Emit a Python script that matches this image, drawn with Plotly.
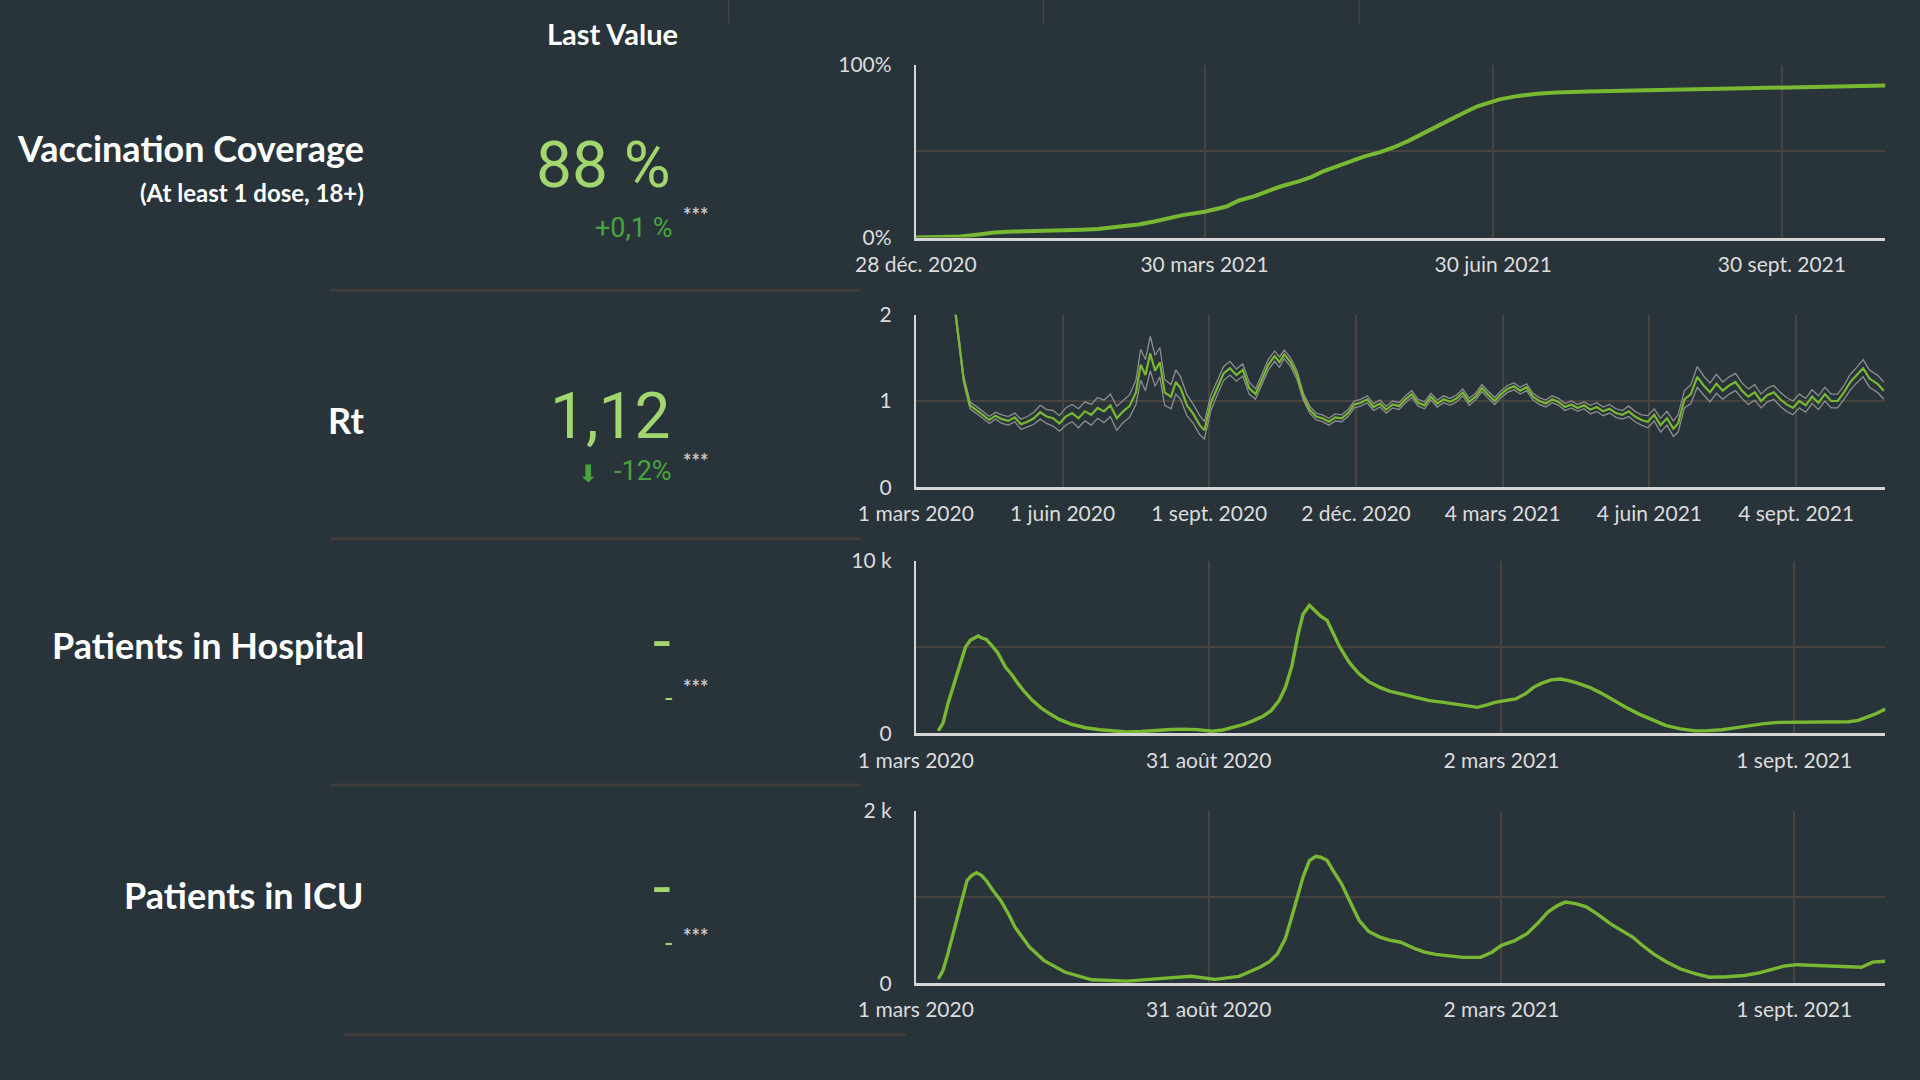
import plotly.graph_objects as go

# ---- data ----

# vaccination coverage, % of adults with at least one dose
vacc_dates = [
    "2020-12-28", "2021-01-04", "2021-01-11", "2021-01-17", "2021-01-22", "2021-01-28",
    "2021-02-02", "2021-02-08", "2021-02-13", "2021-02-19", "2021-02-24", "2021-03-03",
    "2021-03-09", "2021-03-14", "2021-03-19", "2021-03-23", "2021-03-30", "2021-04-06",
    "2021-04-10", "2021-04-15", "2021-04-20", "2021-04-24", "2021-04-29", "2021-05-03",
    "2021-05-07", "2021-05-11", "2021-05-16", "2021-05-20", "2021-05-25", "2021-05-29",
    "2021-06-03", "2021-06-07", "2021-06-12", "2021-06-16", "2021-06-21", "2021-06-25",
    "2021-07-02", "2021-07-08", "2021-07-14", "2021-07-20", "2021-07-30", "2021-08-11",
    "2021-08-22", "2021-09-02", "2021-09-15", "2021-09-29", "2021-10-15", "2021-11-02",
]
vacc_pct = [
    0.0, 0.1, 0.6, 1.8, 2.9, 3.5,
    3.9, 4.0, 4.2, 4.6, 5.0, 6.4,
    7.6, 9.3, 11.4, 13.0, 15.0, 18.0,
    21.5, 24.0, 27.5, 30.0, 32.5, 35.0,
    38.5, 41.0, 44.0, 47.0, 49.5, 52.0,
    56.0, 59.5, 64.0, 68.0, 72.5, 76.0,
    80.0, 82.0, 83.2, 84.0, 84.6, 85.0,
    85.7, 86.3, 86.7, 87.0, 87.5, 88.0,
]

# reproduction number with its confidence band (half width)
rt_dates = [
    "2020-03-15", "2020-03-20", "2020-03-26", "2020-03-31", "2020-04-04", "2020-04-08",
    "2020-04-12", "2020-04-16", "2020-04-20", "2020-04-24", "2020-04-28", "2020-05-02",
    "2020-05-06", "2020-05-10", "2020-05-14", "2020-05-18", "2020-05-22", "2020-05-26",
    "2020-05-30", "2020-06-03", "2020-06-07", "2020-06-11", "2020-06-15", "2020-06-19",
    "2020-06-23", "2020-06-27", "2020-07-01", "2020-07-05", "2020-07-09", "2020-07-13",
    "2020-07-17", "2020-07-20", "2020-07-23", "2020-07-26", "2020-07-29", "2020-08-01",
    "2020-08-04", "2020-08-08", "2020-08-11", "2020-08-14", "2020-08-18", "2020-08-22",
    "2020-08-26", "2020-08-29", "2020-09-02", "2020-09-06", "2020-09-10", "2020-09-14",
    "2020-09-18", "2020-09-22", "2020-09-26", "2020-09-30", "2020-10-04", "2020-10-08",
    "2020-10-12", "2020-10-15", "2020-10-18", "2020-10-22", "2020-10-26", "2020-10-30",
    "2020-11-03", "2020-11-07", "2020-11-11", "2020-11-15", "2020-11-19", "2020-11-23",
    "2020-11-27", "2020-12-01", "2020-12-05", "2020-12-09", "2020-12-13", "2020-12-17",
    "2020-12-21", "2020-12-25", "2020-12-29", "2021-01-02", "2021-01-06", "2021-01-10",
    "2021-01-14", "2021-01-18", "2021-01-22", "2021-01-26", "2021-01-30", "2021-02-03",
    "2021-02-07", "2021-02-11", "2021-02-15", "2021-02-19", "2021-02-23", "2021-02-27",
    "2021-03-03", "2021-03-07", "2021-03-11", "2021-03-15", "2021-03-19", "2021-03-23",
    "2021-03-27", "2021-03-31", "2021-04-04", "2021-04-08", "2021-04-12", "2021-04-16",
    "2021-04-20", "2021-04-24", "2021-04-28", "2021-05-02", "2021-05-06", "2021-05-10",
    "2021-05-14", "2021-05-18", "2021-05-22", "2021-05-26", "2021-05-30", "2021-06-03",
    "2021-06-07", "2021-06-11", "2021-06-15", "2021-06-19", "2021-06-22", "2021-06-26",
    "2021-06-30", "2021-07-04", "2021-07-08", "2021-07-12", "2021-07-16", "2021-07-20",
    "2021-07-24", "2021-07-28", "2021-08-01", "2021-08-05", "2021-08-09", "2021-08-13",
    "2021-08-17", "2021-08-21", "2021-08-25", "2021-08-29", "2021-09-02", "2021-09-06",
    "2021-09-10", "2021-09-14", "2021-09-18", "2021-09-22", "2021-09-26", "2021-09-30",
    "2021-10-04", "2021-10-08", "2021-10-12", "2021-10-16", "2021-10-20", "2021-10-25",
    "2021-10-29",
]
rt_value = [
    3.60, 2.80, 2.00, 1.25, 0.95, 0.90,
    0.84, 0.78, 0.83, 0.79, 0.77, 0.81,
    0.73, 0.76, 0.80, 0.87, 0.82, 0.80,
    0.74, 0.82, 0.86, 0.80, 0.88, 0.84,
    0.92, 0.88, 0.95, 0.80, 0.88, 0.94,
    1.10, 1.42, 1.30, 1.55, 1.35, 1.45,
    1.10, 1.05, 1.22, 1.15, 0.95, 0.85,
    0.72, 0.66, 0.98, 1.15, 1.32, 1.38,
    1.30, 1.36, 1.15, 1.08, 1.25, 1.42,
    1.52, 1.45, 1.54, 1.45, 1.30, 1.05,
    0.90, 0.82, 0.80, 0.76, 0.81, 0.80,
    0.86, 0.96, 0.98, 1.02, 0.93, 0.97,
    0.90, 0.96, 0.94, 1.02, 1.08, 0.98,
    0.95, 1.05, 0.97, 1.02, 0.99, 1.03,
    1.10, 0.99, 1.05, 1.15, 1.07, 1.00,
    1.08, 1.14, 1.17, 1.12, 1.16, 1.05,
    1.00, 0.97, 1.02, 0.99, 0.93, 0.96,
    0.92, 0.95, 0.90, 0.93, 0.88, 0.91,
    0.86, 0.84, 0.88, 0.82, 0.78, 0.76,
    0.84, 0.72, 0.80, 0.68, 0.74, 1.02,
    1.08, 1.28, 1.18, 1.10, 1.20, 1.12,
    1.18, 1.22, 1.12, 1.05, 1.10, 1.00,
    1.07, 1.10, 1.02, 0.96, 0.92, 1.00,
    0.95, 1.05, 0.98, 1.08, 1.00, 1.00,
    1.10, 1.22, 1.30, 1.38, 1.26, 1.20,
    1.12,
]
rt_band = [
    0.10, 0.10, 0.05, 0.04, 0.04, 0.04,
    0.04, 0.04, 0.04, 0.05, 0.05, 0.05,
    0.06, 0.06, 0.07, 0.08, 0.08, 0.09,
    0.09, 0.10, 0.10, 0.11, 0.11, 0.12,
    0.12, 0.13, 0.13, 0.14, 0.13, 0.13,
    0.14, 0.18, 0.18, 0.20, 0.18, 0.17,
    0.15, 0.14, 0.14, 0.13, 0.12, 0.11,
    0.11, 0.10, 0.09, 0.08, 0.08, 0.08,
    0.07, 0.07, 0.07, 0.06, 0.06, 0.06,
    0.06, 0.06, 0.05, 0.05, 0.05, 0.04,
    0.04, 0.04, 0.04, 0.04, 0.04, 0.04,
    0.04, 0.04, 0.04, 0.04, 0.04, 0.04,
    0.04, 0.04, 0.04, 0.04, 0.04, 0.04,
    0.04, 0.04, 0.04, 0.04, 0.04, 0.04,
    0.04, 0.04, 0.04, 0.04, 0.04, 0.04,
    0.04, 0.04, 0.04, 0.04, 0.04, 0.04,
    0.04, 0.04, 0.04, 0.04, 0.04, 0.04,
    0.04, 0.04, 0.05, 0.05, 0.05, 0.05,
    0.05, 0.05, 0.06, 0.06, 0.06, 0.07,
    0.07, 0.08, 0.08, 0.09, 0.10, 0.10,
    0.11, 0.12, 0.11, 0.11, 0.11, 0.10,
    0.10, 0.10, 0.09, 0.09, 0.09, 0.08,
    0.08, 0.08, 0.08, 0.08, 0.08, 0.08,
    0.08, 0.08, 0.08, 0.08, 0.08, 0.08,
    0.08, 0.09, 0.09, 0.10, 0.10, 0.10,
    0.10,
]

# patients in hospital
hosp_dates = [
    "2020-03-15", "2020-03-18", "2020-03-21", "2020-03-25", "2020-03-28", "2020-04-01",
    "2020-04-04", "2020-04-07", "2020-04-09", "2020-04-11", "2020-04-14", "2020-04-17",
    "2020-04-21", "2020-04-26", "2020-04-30", "2020-05-04", "2020-05-08", "2020-05-13",
    "2020-05-18", "2020-05-24", "2020-05-30", "2020-06-06", "2020-06-15", "2020-06-24",
    "2020-07-02", "2020-07-11", "2020-07-20", "2020-07-29", "2020-08-07", "2020-08-15",
    "2020-08-24", "2020-09-02", "2020-09-09", "2020-09-15", "2020-09-22", "2020-09-28",
    "2020-10-04", "2020-10-09", "2020-10-14", "2020-10-18", "2020-10-22", "2020-10-26",
    "2020-10-29", "2020-11-02", "2020-11-04", "2020-11-06", "2020-11-09", "2020-11-13",
    "2020-11-17", "2020-11-21", "2020-11-27", "2020-12-03", "2020-12-09", "2020-12-16",
    "2020-12-22", "2020-12-29", "2021-01-07", "2021-01-16", "2021-01-25", "2021-02-02",
    "2021-02-09", "2021-02-15", "2021-02-21", "2021-02-26", "2021-03-04", "2021-03-11",
    "2021-03-17", "2021-03-22", "2021-03-27", "2021-04-02", "2021-04-08", "2021-04-13",
    "2021-04-19", "2021-04-26", "2021-05-03", "2021-05-11", "2021-05-19", "2021-05-27",
    "2021-06-05", "2021-06-13", "2021-06-22", "2021-07-01", "2021-07-09", "2021-07-18",
    "2021-07-27", "2021-08-05", "2021-08-13", "2021-08-22", "2021-08-31", "2021-09-09",
    "2021-09-18", "2021-09-27", "2021-10-05", "2021-10-11", "2021-10-16", "2021-10-21",
    "2021-10-28",
]
hosp_value = [
    150, 600, 1700, 2900, 3840, 5000,
    5400, 5580, 5650, 5540, 5450, 5150,
    4700, 3840, 3400, 2870, 2400, 1900,
    1500, 1120, 800, 540, 330, 210,
    150, 80, 110, 190, 230, 250,
    220, 130, 200, 350, 520, 740,
    1000, 1320, 1900, 2670, 3900, 5780,
    6900, 7420, 7250, 7030, 6800, 6550,
    5800, 5000, 4100, 3450, 3000, 2670,
    2450, 2290, 2100, 1900, 1800, 1700,
    1620, 1510, 1650, 1800, 1900, 2000,
    2300, 2670, 2900, 3100, 3150, 3060,
    2900, 2670, 2350, 1900, 1500, 1120,
    750, 450, 260, 150, 160, 210,
    340, 480, 570, 640, 650, 640,
    660, 680, 680, 760, 930, 1100,
    1410,
]

# patients in intensive care
icu_dates = [
    "2020-03-15", "2020-03-18", "2020-03-21", "2020-03-25", "2020-03-28", "2020-04-02",
    "2020-04-05", "2020-04-08", "2020-04-11", "2020-04-14", "2020-04-18", "2020-04-23",
    "2020-04-28", "2020-05-02", "2020-05-07", "2020-05-11", "2020-05-20", "2020-06-02",
    "2020-06-19", "2020-07-11", "2020-07-29", "2020-08-10", "2020-08-20", "2020-09-04",
    "2020-09-19", "2020-10-02", "2020-10-08", "2020-10-13", "2020-10-18", "2020-10-22",
    "2020-10-26", "2020-10-29", "2020-11-02", "2020-11-06", "2020-11-09", "2020-11-13",
    "2020-11-17", "2020-11-22", "2020-11-28", "2020-12-03", "2020-12-09", "2020-12-16",
    "2020-12-22", "2020-12-29", "2021-01-07", "2021-01-13", "2021-01-20", "2021-02-06",
    "2021-02-17", "2021-02-24", "2021-03-02", "2021-03-10", "2021-03-18", "2021-03-25",
    "2021-03-31", "2021-04-06", "2021-04-11", "2021-04-18", "2021-04-24", "2021-05-01",
    "2021-05-09", "2021-05-16", "2021-05-23", "2021-05-29", "2021-06-05", "2021-06-13",
    "2021-06-22", "2021-07-01", "2021-07-10", "2021-07-21", "2021-08-01", "2021-08-10",
    "2021-08-19", "2021-08-26", "2021-09-03", "2021-09-13", "2021-09-23", "2021-10-03",
    "2021-10-13", "2021-10-20", "2021-10-28",
]
icu_value = [
    50, 150, 340, 620, 845, 1190,
    1250, 1280, 1250, 1190, 1080, 960,
    800, 650, 520, 420, 265, 130,
    40, 25, 50, 70, 80, 45,
    80, 185, 250, 340, 520, 770,
    1050, 1230, 1420, 1470, 1460, 1425,
    1300, 1155, 920, 730, 600, 535,
    500, 475, 400, 360, 335, 300,
    300, 360, 440, 490, 575, 700,
    825, 900, 940, 920, 885, 800,
    690, 610, 535, 440, 340, 250,
    165, 110, 70, 75, 90, 120,
    165, 200, 215, 205, 200, 190,
    185, 245, 255,
]

# tick labels (French dates, as on the dashboard)
vacc_tickvals = ["2020-12-28", "2021-03-30", "2021-06-30", "2021-09-30"]
vacc_ticktext = ["28 déc. 2020", "30 mars 2021", "30 juin 2021", "30 sept. 2021"]
rt_tickvals = ["2020-03-01", "2020-06-01", "2020-09-01", "2020-12-02",
               "2021-03-04", "2021-06-04", "2021-09-04"]
rt_ticktext = ["1 mars 2020", "1 juin 2020", "1 sept. 2020", "2 déc. 2020",
               "4 mars 2021", "4 juin 2021", "4 sept. 2021"]
hosp_tickvals = ["2020-03-01", "2020-08-31", "2021-03-02", "2021-09-01"]
hosp_ticktext = ["1 mars 2020", "31 août 2020", "2 mars 2021", "1 sept. 2021"]

row_labels = ["Vaccination Coverage", "Rt", "Patients in Hospital", "Patients in ICU"]
last_values = ["88 %", "1,12", "-", "-"]
last_changes = ["+0,1 %", "-12%", "-", "-"]

# ---- styling ----
BG = "#29333a"
GREEN = "#78b832"
VALUE_GREEN = "#a2d66e"
DELTA_GREEN = "#45a63d"
GRID = "#47433f"
AXIS = "#d6d6d6"
TICK_FONT = dict(family="Lato", size=21, color="#dcdcdc")

fig = go.Figure()

# vaccination
fig.add_trace(go.Scatter(x=vacc_dates, y=vacc_pct, mode="lines",
                         line=dict(color=GREEN, width=4), xaxis="x", yaxis="y"))

# Rt with band
rt_low = [v - b for v, b in zip(rt_value, rt_band)]
rt_high = [v + b for v, b in zip(rt_value, rt_band)]
for band in (rt_low, rt_high):
    fig.add_trace(go.Scatter(x=rt_dates, y=band, mode="lines",
                             line=dict(color="#8e8e8e", width=1.3), xaxis="x2", yaxis="y2"))
fig.add_trace(go.Scatter(x=rt_dates, y=rt_value, mode="lines",
                         line=dict(color=GREEN, width=2.2), xaxis="x2", yaxis="y2"))

# hospital / icu
fig.add_trace(go.Scatter(x=hosp_dates, y=hosp_value, mode="lines",
                         line=dict(color=GREEN, width=3.4), xaxis="x3", yaxis="y3"))
fig.add_trace(go.Scatter(x=icu_dates, y=icu_value, mode="lines",
                         line=dict(color=GREEN, width=3.4), xaxis="x4", yaxis="y4"))

x_dom = [0.477, 0.982]
y_doms = [[0.780, 0.940], [0.5488, 0.7086], [0.3209, 0.4807], [0.0896, 0.2494]]
x_ranges = [["2020-12-28", "2021-11-02"], ["2020-03-01", "2021-10-30"],
            ["2020-03-01", "2021-10-28"], ["2020-03-01", "2021-10-28"]]
x_ticks = [(vacc_tickvals, vacc_ticktext), (rt_tickvals, rt_ticktext),
           (hosp_tickvals, hosp_ticktext), (hosp_tickvals, hosp_ticktext)]
y_ranges = [[0, 100], [0, 2], [0, 10000], [0, 2000]]
y_ticks = [([0, 50, 100], ["0%", "", "100%"]), ([0, 1, 2], ["0", "1", "2"]),
           ([0, 5000, 10000], ["0", "", "10 k"]), ([0, 1000, 2000], ["0", "", "2 k"])]

axes = {}
for i in range(4):
    sfx = "" if i == 0 else str(i + 1)
    axes["xaxis" + sfx] = dict(
        domain=x_dom, anchor="y" + sfx, type="date", range=x_ranges[i],
        tickmode="array", tickvals=x_ticks[i][0], ticktext=x_ticks[i][1],
        showgrid=True, gridcolor=GRID, gridwidth=1.5,
        showline=True, linecolor=AXIS, linewidth=3, ticks="",
        tickfont=TICK_FONT, ticklabelstandoff=6, zeroline=False, fixedrange=True,
        automargin=False,
    )
    axes["yaxis" + sfx] = dict(
        domain=y_doms[i], anchor="x" + sfx, range=y_ranges[i],
        tickmode="array", tickvals=y_ticks[i][0], ticktext=y_ticks[i][1],
        showgrid=True, gridcolor=GRID, gridwidth=1.5,
        showline=True, linecolor=AXIS, linewidth=2, ticks="",
        tickfont=TICK_FONT, ticklabelstandoff=18, zeroline=False, fixedrange=True,
        automargin=False,
    )

annotations = []


def add_text(text, x, y, size, color, family="Lato", xanchor="right", bold=False):
    if bold:
        text = "<b>" + text + "</b>"
    annotations.append(dict(
        text=text, x=x, y=y, xref="paper", yref="paper", xanchor=xanchor,
        yanchor="middle", showarrow=False, font=dict(family=family, size=size, color=color),
    ))


add_text("Last Value", 0.3189, 0.9694, 29, "white", xanchor="center", bold=True)

# row labels
label_y = [0.8628, 0.6111, 0.4025, 0.1712]
for lab, ly in zip(row_labels, label_y):
    add_text(lab, 0.1905, ly, 36, "white", bold=True)
add_text("(At least 1 dose, 18+)", 0.1905, 0.8220, 24, "white", bold=True)

# big values and changes
value_y = [0.8469, 0.6145, 0.4059, 0.1780]
for val, vy in zip(last_values, value_y):
    add_text(val, 0.3505, vy, 64, VALUE_GREEN, family="Roboto")

change_y = [0.7891, 0.5635, 0.3540, 0.1270]
change_col = [DELTA_GREEN, DELTA_GREEN, VALUE_GREEN, VALUE_GREEN]
for ch, cy, cc in zip(last_changes, change_y, change_col):
    add_text(ch, 0.3508, cy, 27, cc, family="Roboto")
add_text("⬇", 0.3065, 0.5615, 24, DELTA_GREEN, family="DejaVu Sans", xanchor="center")

star_y = [0.8010, 0.5730, 0.3640, 0.1330]
for sy in star_y:
    add_text("***", 0.3545, sy, 20, "#c8c8c8", xanchor="left", bold=True)

shapes = []
# row separators
for y0, x0, x1 in [(0.7313, 0.172, 0.448), (0.5011, 0.172, 0.448),
                   (0.2732, 0.172, 0.448), (0.0420, 0.179, 0.472)]:
    shapes.append(dict(type="line", xref="paper", yref="paper", x0=x0, x1=x1, y0=y0, y1=y0,
                       line=dict(color="#3f3c39", width=3)))
# column stubs at top of the table
for xs in [0.3795, 0.5434, 0.7079]:
    shapes.append(dict(type="line", xref="paper", yref="paper", x0=xs, x1=xs, y0=0.978, y1=1.0,
                       line=dict(color="#444444", width=1.5)))

fig.update_layout(
    width=1920, height=1080,
    paper_bgcolor=BG, plot_bgcolor=BG,
    margin=dict(l=0, r=0, t=0, b=0, pad=0),
    showlegend=False,
    annotations=annotations,
    shapes=shapes,
    **axes,
)

# drop the default page margin so the figure fills the window exactly
fig.write_html("out.html", config={"displayModeBar": False},
               post_script="document.body.style.margin='0';")
